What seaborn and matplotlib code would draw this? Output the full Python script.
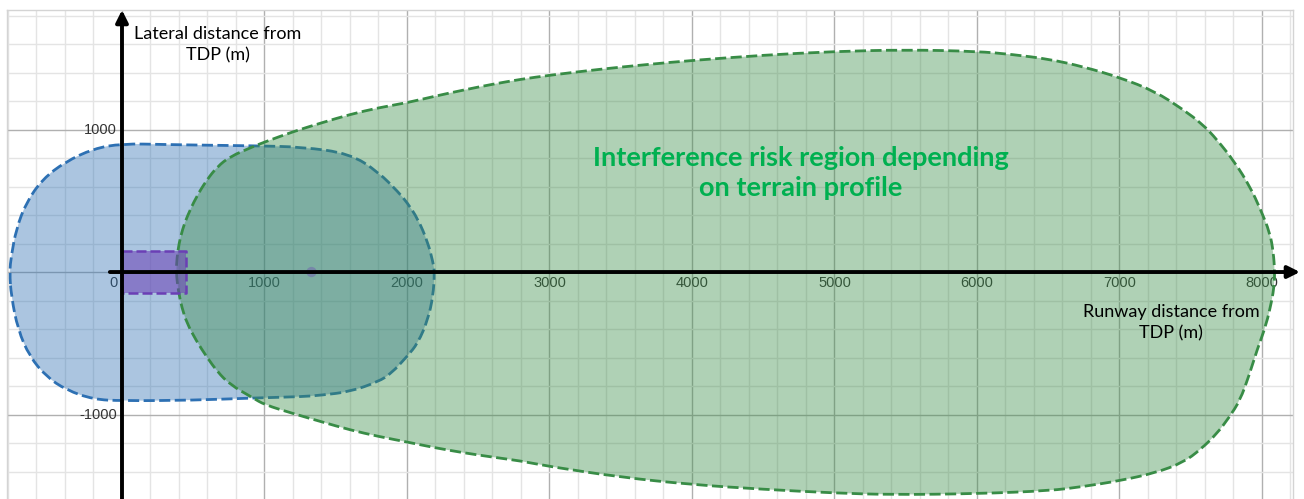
import matplotlib
matplotlib.use("Agg")
import matplotlib.pyplot as plt
import seaborn as sns
import pandas as pd
from matplotlib.path import Path
from matplotlib.patches import PathPatch
from matplotlib.ticker import MultipleLocator

# ---------------- data ----------------
# Blue region outline (upper edge left->right, then lower edge right->left)
blue_upper_x = [-789, -777, -742, -672, -555, -400, -200, 0, 300, 600, 920, 1264,
                1600, 1800, 1940, 2000, 2077, 2147, 2183, 2194]
blue_upper_y = [0, 113, 301, 489, 654, 772, 866, 901, 895, 890, 886, 878,
                831, 701, 560, 489, 372, 207, 66, 0]
blue_lower_x = [2183, 2147, 2077, 2000, 1890, 1800, 1600, 1400, 1264, 920, 500, 0,
                -200, -391, -531, -648, -730, -777]
blue_lower_y = [-169, -334, -499, -593, -711, -769, -840, -864, -875, -884, -900, -904,
                -894, -828, -734, -593, -405, -169]

# Green region outline
green_upper_x = [380, 386, 400, 425, 456, 520, 596, 670, 758, 920, 1000, 1200, 1400, 1600, 1800,
                 2000, 2200, 2400, 2600, 2800, 3000, 3350, 3700, 4000, 4500, 5000, 5500, 6000,
                 6250, 6512, 6750, 7000, 7250, 7446, 7580, 7684, 7810, 7916, 7990, 8056, 8080, 8090]
green_upper_y = [0, 100, 200, 300, 387, 525, 648, 740, 810, 880, 912, 985, 1047, 1106, 1153,
                 1188, 1235, 1278, 1318, 1353, 1381, 1423, 1458, 1485, 1522, 1548, 1560, 1549,
                 1527, 1493, 1440, 1366, 1268, 1141, 1040, 930, 770, 599, 440, 275, 140, 0]
green_lower_x = [8085, 8070, 8030, 7965, 7910, 7846, 7770, 7684, 7570, 7446, 7250, 7000, 6750,
                 6512, 6000, 5400, 5000, 4500, 4000, 3500, 3000, 2800, 2600, 2400, 2200, 2000,
                 1800, 1600, 1400, 1200, 1000, 920, 758, 670, 596, 520, 456, 420, 395]
green_lower_y = [-100, -197, -370, -549, -725, -901, -1020, -1134, -1245, -1338, -1410, -1465,
                 -1505, -1535, -1556, -1563, -1551, -1525, -1492, -1440, -1365, -1326, -1299,
                 -1269, -1234, -1193, -1154, -1108, -1051, -993, -931, -884, -790, -700, -598,
                 -480, -359, -250, -130]

# Purple rectangle (touchdown zone) and point
purple_x = [0, 450, 450, 0, 0]
purple_y = [145, 145, -145, -145, 145]
point_x = [1330]
point_y = [0]

# Axis tick labels
x_tick_values = [1000, 2000, 3000, 4000, 5000, 6000, 7000, 8000]
y_tick_values = [1000, -1000]

annotation_text = "Interference risk region depending\non terrain profile"
y_axis_title = "Lateral distance from\nTDP (m)"
x_axis_title = "Runway distance from\nTDP (m)"

# ---------------- styling ----------------
sns.set_theme(style="white")
plt.rcParams["font.family"] = ["Liberation Sans", "DejaVu Sans"]

BLUE = "#2d70b3"
GREEN = "#388c46"
PURPLE = "#6b3fb5"

W, H = 1304, 499
fig = plt.figure(figsize=(W / 100, H / 100), dpi=100, facecolor="white")
ax = fig.add_axes([7 / W, 0, 1286 / W, 489 / H])
ax.set_facecolor("white")
ax.set_xlim(-807, 8218)
ax.set_ylim(-1593, 1839)

# grid
ax.xaxis.set_major_locator(MultipleLocator(1000))
ax.yaxis.set_major_locator(MultipleLocator(1000))
ax.xaxis.set_minor_locator(MultipleLocator(200))
ax.yaxis.set_minor_locator(MultipleLocator(200))
ax.set_axisbelow(True)
ax.grid(which="major", color="#b0b0b0", lw=1.0)
ax.grid(which="minor", color="#e4e4e4", lw=1.0)
ax.tick_params(which="both", length=0, labelbottom=False, labelleft=False)
for s in ["top", "left", "right"]:
    ax.spines[s].set_color("#d4d4d4")
    ax.spines[s].set_linewidth(1.0)
ax.spines["bottom"].set_visible(False)

# tick labels (below the filled regions, like the original)
lab_kw = dict(fontsize=10.5, color="#333333", zorder=0.8, textcoords="offset points")
ax.annotate("0", xy=(0, 0), xytext=(-3, -8), ha="right", va="center", **lab_kw)
for v in x_tick_values:
    ax.annotate(f"{v}", xy=(v, 0), xytext=(0, -8), ha="center", va="center", **lab_kw)
for v in y_tick_values:
    ax.annotate(f"{v}", xy=(0, v), xytext=(-3.5, 0), ha="right", va="center", **lab_kw)

dash = (0, (4, 1.6))


def smooth_closed_path(xs, ys):
    """Closed quadratic B-spline path using the read outline points as control points."""
    pts = list(zip(xs, ys))
    n = len(pts)
    mids = [((pts[i][0] + pts[(i + 1) % n][0]) / 2, (pts[i][1] + pts[(i + 1) % n][1]) / 2)
            for i in range(n)]
    verts = [mids[-1]]
    codes = [Path.MOVETO]
    for i in range(n):
        verts += [pts[i], mids[i]]
        codes += [Path.CURVE3, Path.CURVE3]
    verts.append(mids[-1])
    codes.append(Path.CLOSEPOLY)
    return Path(verts, codes)


def region(xs, ys, color, z):
    path = smooth_closed_path(xs, ys)
    ax.add_patch(PathPatch(path, facecolor=color, alpha=0.4, lw=0, zorder=z))
    ax.add_patch(PathPatch(path, facecolor="none", edgecolor=color, lw=2.0,
                           linestyle=dash, zorder=z + 0.05))


region(blue_upper_x + blue_lower_x, blue_upper_y + blue_lower_y, BLUE, 1.0)
region(green_upper_x + green_lower_x, green_upper_y + green_lower_y, GREEN, 1.2)

# purple touchdown rectangle
ax.fill(purple_x, purple_y, color=PURPLE, alpha=0.55, lw=0, zorder=1.4)
sns.lineplot(data=pd.DataFrame({"x": purple_x, "y": purple_y}), x="x", y="y", sort=False,
             estimator=None, ax=ax, color=PURPLE, lw=1.8, linestyle=dash, zorder=1.45)
sns.scatterplot(x=point_x, y=point_y, ax=ax, s=55, color=PURPLE, alpha=0.35,
                edgecolor="none", zorder=1.6)

ax.set_xlabel("")
ax.set_ylabel("")

# axes arrows
ax.annotate("", xy=(8267, 0), xytext=(-85, 0),
            arrowprops=dict(arrowstyle="-|>", lw=2.8, color="black", mutation_scale=18,
                            shrinkA=0, shrinkB=0), zorder=3, annotation_clip=False)
ax.annotate("", xy=(0, 1839), xytext=(0, -1650),
            arrowprops=dict(arrowstyle="-|>", lw=2.8, color="black", mutation_scale=18,
                            shrinkA=0, shrinkB=0), zorder=3, annotation_clip=False)

# titles / annotation
title_font = ["Lato", "DejaVu Sans"]
ax.text(674, 1594, y_axis_title, ha="center", va="center", multialignment="center",
        fontsize=13, color="black", family=title_font, linespacing=1.4, zorder=4)
ax.text(7361, -358, x_axis_title, ha="center", va="center", multialignment="center",
        fontsize=13, color="black", family=title_font, linespacing=1.4, zorder=4)
ax.text(4765, 695, annotation_text, ha="center", va="center", multialignment="center",
        fontsize=19.5, color="#00b050", fontweight="bold", family=title_font,
        linespacing=1.35, zorder=4)

fig.savefig("out.png", dpi=100, facecolor="white")
